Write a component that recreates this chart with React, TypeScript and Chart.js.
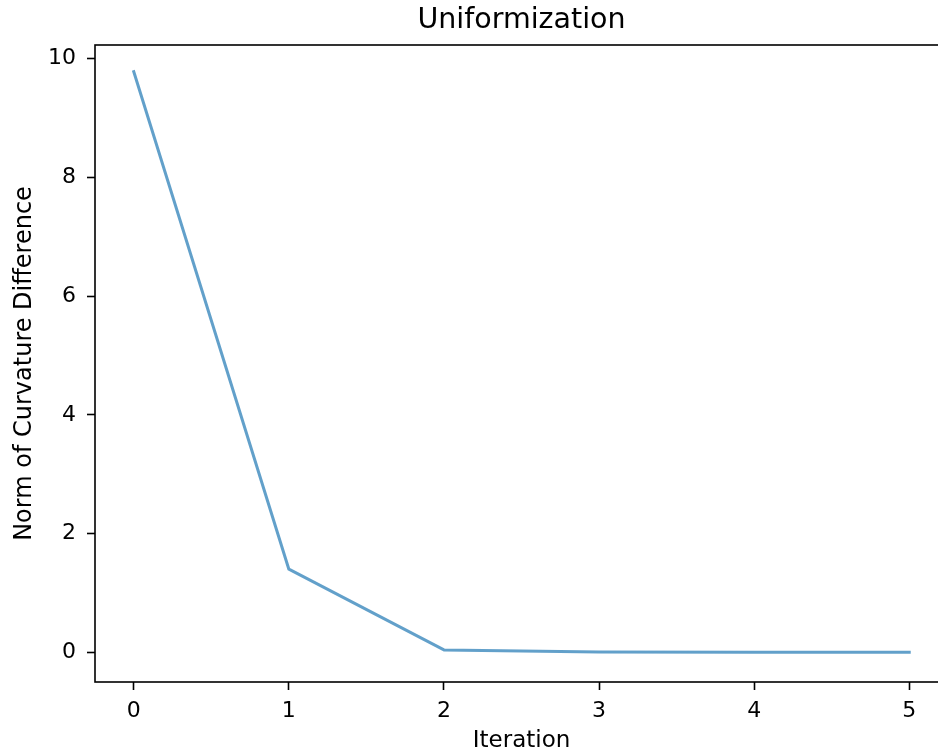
import React, { useEffect, useRef } from "react";
import { Chart, registerables } from "chart.js";

Chart.register(...registerables);

const iterations = [0, 1, 2, 3, 4, 5];
const normValues = [9.78, 1.4, 0.04, 0.004, 0.002, 0.001];
const xTickValues = [0, 1, 2, 3, 4, 5];
const yTickValues = [0, 2, 4, 6, 8, 10];

const titleText = "Uniformization";
const xLabel = "Iteration";
const yLabel = "Norm of Curvature Difference";

const FONT = "'DejaVu Sans', sans-serif";

const frame = {
  id: "frame",
  afterDraw(chart: any) {
    const { ctx, chartArea } = chart;
    ctx.save();
    ctx.strokeStyle = "#000";
    ctx.lineWidth = 1.6;
    ctx.strokeRect(chartArea.left, chartArea.top, chartArea.right - chartArea.left, chartArea.bottom - chartArea.top);
    ctx.restore();
  },
};

export default function App() {
  const ref = useRef<HTMLCanvasElement | null>(null);
  useEffect(() => {
    if (!ref.current) return;
    const chart = new Chart(ref.current, {
      type: "line",
      data: {
        datasets: [
          {
            data: iterations.map((x, i) => ({ x, y: normValues[i] })),
            borderColor: "rgba(31,119,180,0.7)",
            borderWidth: 3,
            pointRadius: 0,
            tension: 0,
            fill: false,
            borderJoinStyle: "round",
            borderCapStyle: "square",
          },
        ],
      },
      plugins: [frame],
      options: {
        animation: false,
        responsive: false,
        layout: { padding: { left: 0, right: 12, top: 0, bottom: 0 } },
        plugins: {
          legend: { display: false },
          tooltip: { enabled: false },
          title: {
            display: true,
            text: titleText,
            fullSize: false,
            color: "#000",
            font: { family: FONT, size: 28.5, weight: "normal", lineHeight: 1.2 },
            padding: { top: 3, bottom: 7.8 },
          },
        },
        scales: {
          x: {
            type: "linear",
            min: -0.25,
            max: 5.25,
            afterBuildTicks: (s: any) => {
              s.ticks = xTickValues.map((v) => ({ value: v }));
            },
            afterFit: (s: any) => {
              s.height = 73;
            },
            grid: { drawOnChartArea: false, drawTicks: true, tickLength: 8, tickColor: "#000", tickWidth: 1.6 },
            border: { display: false },
            ticks: {
              color: "#000",
              font: { family: FONT, size: 22 },
              padding: 8,
              maxRotation: 0,
              autoSkip: false,
              callback: (v: any) => String(v),
            },
            title: {
              display: true,
              text: xLabel,
              color: "#000",
              font: { family: FONT, size: 23, lineHeight: 1.2 },
              padding: { top: 0, bottom: 0 },
            },
          },
          y: {
            type: "linear",
            min: -0.5,
            max: 10.23,
            afterBuildTicks: (s: any) => {
              s.ticks = yTickValues.map((v) => ({ value: v }));
            },
            afterFit: (s: any) => {
              s.width = 95;
            },
            grid: { drawOnChartArea: false, drawTicks: true, tickLength: 8, tickColor: "#000", tickWidth: 1.6 },
            border: { display: false },
            ticks: {
              color: "#000",
              font: { family: FONT, size: 22 },
              padding: 11,
              autoSkip: false,
              callback: (v: any) => String(v),
            },
            title: {
              display: true,
              text: yLabel,
              color: "#000",
              font: { family: FONT, size: 24, lineHeight: 1.2 },
              padding: { top: 10, bottom: 0 },
            },
          },
        },
      },
    } as any);
    return () => chart.destroy();
  }, []);
  return (
    <div style={{ position: "fixed", left: 0, top: 0, width: 938, height: 755, overflow: "hidden", background: "#fff" }}>
      <canvas ref={ref} width={960} height={755} style={{ display: "block", width: 960, height: 755 }} />
    </div>
  );
}
